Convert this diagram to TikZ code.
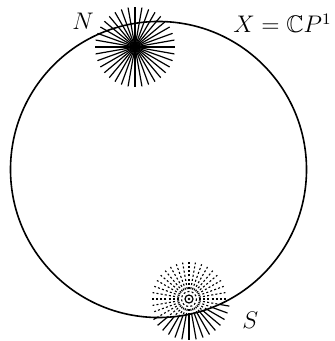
\documentclass[tikz,border=0pt]{standalone}
\usepackage{amsmath,amssymb}
\usepackage{tikz}
\usetikzlibrary{calc}
\tikzset{
  sphere/.style={line width=0.8pt},
  ray/.style={line width=0.6pt},
  dashray/.style={line width=0.55pt, dash pattern=on 1pt off 1.1pt},
  polelabel/.style={anchor=base west, inner sep=0pt, font=\large},
}

\begin{document}
\begin{tikzpicture}[x=0.5pt,y=-0.5pt]
  \useasboundingbox (0,0) rectangle (335,341);

  % The sphere X and its poles
  \coordinate (mid) at (158.5,169.5);
  \coordinate (north) at (135,47);
  \coordinate (south) at (189,299);
  \draw[sphere] (mid) circle (148);

  % Star at N - all rays solid
  \foreach \a in {0,10,...,350} {
    \draw[ray] (north) -- ++(\a:40);
  }

  % Star at S - solid outside the sphere
  \begin{scope}
    \clip (0,0) -- (0,341) -- (335,341) -- (335,0) -- cycle
          (mid) ++(148,0) arc[start angle=0, end angle=360, radius=148] -- cycle;
    \foreach \a in {0,10,...,350} {
      \draw[ray] (south) -- ++(\a:41);
    }
  \end{scope}

  % Star at S - dashed inside the sphere
  \begin{scope}
    \clip (mid) circle (148);
    \foreach \a in {0,10,...,350} {
      \draw[dashray] (south) ++(\a:10) -- ++(\a:27);
    }
  \end{scope}
  \draw[ray] (south) circle (4);
  \draw[dashray] (south) circle (7.5);
  \fill (south) circle (1.3);

  % Labels
  \node[polelabel] (nlab) at (72,30) {$N$};
  \node[polelabel] (slab) at (242,328) {$S$};
  \node[polelabel, anchor=base east] (xlab) at (332,33) {$X=\mathbb{C}P^1$};
\end{tikzpicture}
\end{document}
